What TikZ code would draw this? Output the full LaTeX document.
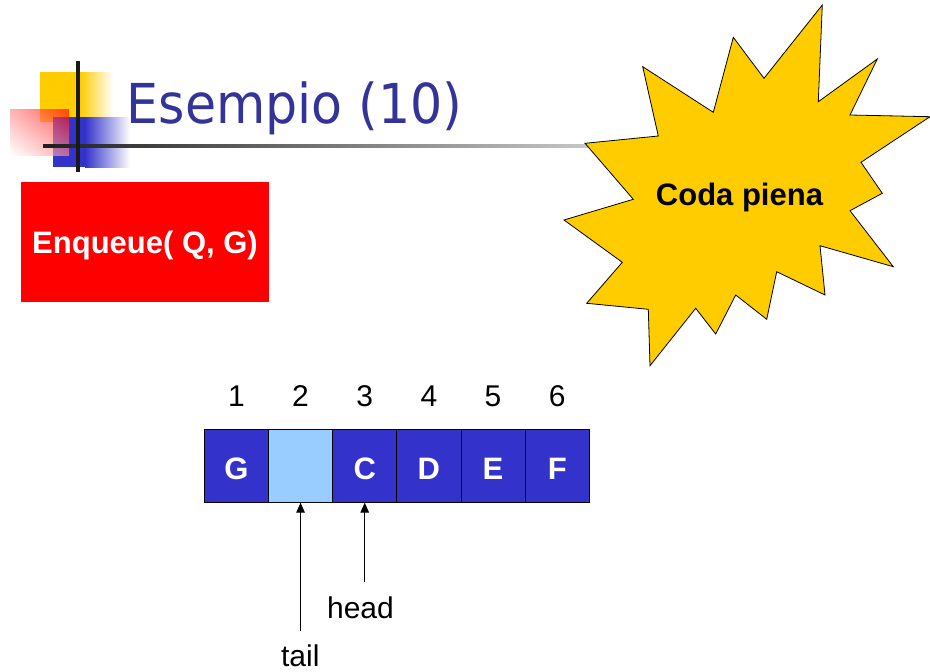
\documentclass[tikz,border=0pt]{standalone}
\usepackage{fontspec}
\setmainfont{Liberation Sans}
\newfontfamily\titlefont{DejaVu Sans}
\usetikzlibrary{arrows.meta,shadings}

\definecolor{titleblue}{HTML}{333399}
\definecolor{cellblue}{HTML}{3333CC}
\definecolor{emptyblue}{HTML}{99CCFF}
\definecolor{burst}{HTML}{FFCC00}

\tikzset{
  cellbox/.style={draw=black, line width=0.9pt, minimum width=64.17pt, minimum height=72.4pt,
    inner sep=0pt, text=white, font=\bfseries\fontsize{31}{36}\selectfont,
    text height=26.6pt, text depth=0pt},
  idxlabel/.style={anchor=base, inner sep=0pt, font=\fontsize{30}{36}\selectfont},
  ptrlabel/.style={anchor=base, inner sep=0pt, font=\fontsize{30}{36}\selectfont},
  ptr/.style={line width=1.2pt, -{Triangle[length=10pt,width=8.5pt]}},
}

\begin{document}
\begin{tikzpicture}[x=1pt,y=-1pt]
\useasboundingbox[fill=white] (0,0) rectangle (930,672);

% logo squares
\fill[burst] (40,72) rectangle (80,122);
\shade[left color=burst, right color=white] (80,72) rectangle (113,122);
\fill[cellblue] (53,117) rectangle (85,167);
\shade[left color=cellblue, right color=white] (85,117) rectangle (130,167);
\shade[upper right=red, upper left=red!45, lower right=red!45, lower left=white,
  fill opacity=0.65] (10,109) rectangle (69,155);

% title rule and logo cross bar
\shade[left color=black!88, right color=black!18] (43,144.2) rectangle (620,147.8);
\fill[black!90] (76,61) rectangle (80,172);

% title
\node[anchor=base west, inner sep=0pt, text=titleblue, font=\titlefont\fontsize{55}{60}\selectfont]
  (title) at (126.5,123.3) {\scalebox{0.92}[1]{Esempio (10)}};

% operation box
\node[fill=red, minimum width=248pt, minimum height=120pt, inner sep=0pt, text=white,
  font=\bfseries\fontsize{31}{36}\selectfont, text height=23.2pt, text depth=0pt]
  (op) at (145,241.7) {Enqueue( Q, G)};

% starburst
\draw[fill=burst, line width=0.8pt, line join=miter]
  (822.3,5) -- (818.3,101.7) -- (877.3,59) -- (850,115) -- (930,116.7) -- (861,162.3)
  -- (882.3,193.3) -- (850,210.7) -- (893.3,266.7) -- (820,245.7) -- (825,295)
  -- (776.7,271.7) -- (766.7,319.3) -- (735.7,295) -- (715.7,334) -- (695.7,308.3)
  -- (650,365.7) -- (648.3,309.3) -- (586.7,303.3) -- (622.3,262.3) -- (564,220)
  -- (633.3,199.3) -- (585,143.3) -- (658.3,136) -- (642.7,66.7) -- (713.3,112.3)
  -- (733.3,37.3) -- (764,78.3) -- cycle;
\node[anchor=base, inner sep=0pt, font=\bfseries\fontsize{31}{36}\selectfont]
  (full) at (739.5,205) {Coda piena};

% queue array
\foreach \i/\t/\c in {1/G/cellblue, 2/{}/emptyblue, 3/C/cellblue, 4/D/cellblue, 5/E/cellblue, 6/F/cellblue} {
  \node[cellbox, fill=\c] (c\i) at ({204.3+64.17*(\i-0.5)},466) {\t};
  \node[idxlabel] (n\i) at ({204.3+64.17*(\i-0.5)},406.7) {\i};
}

% tail and head pointers
\coordinate (tailfoot) at ([yshift=-128pt]c2.south);
\coordinate (headfoot) at ([yshift=-79pt]c3.south);
\draw[ptr] (tailfoot) -- (c2.south);
\draw[ptr] (headfoot) -- (c3.south);
\node[ptrlabel] (headlbl) at (360.5,618) {head};
\node[ptrlabel] (taillbl) at (300.3,666.7) {tail};
\end{tikzpicture}
\end{document}
